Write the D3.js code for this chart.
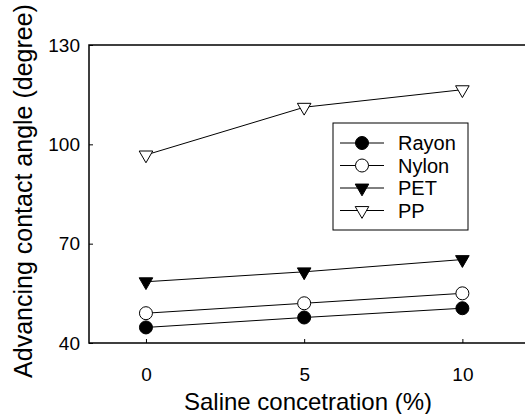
<!DOCTYPE html>
<html>
<head>
<meta charset="utf-8">
<script src="https://cdn.jsdelivr.net/npm/d3@7"></script>
<style>
  body { margin: 0; background: #fff; }
  svg { display: block; font-family: "Liberation Sans", Arial, sans-serif; }
</style>
</head>
<body>
<div id="plot"></div>
<script>
// data
const saline = [0, 5, 10];
const rayon = [44.7, 47.7, 50.5];
const nylon = [49, 52, 55];
const pet = [58.5, 61.5, 65.2];
const pp = [96.8, 111.2, 116.5];
const xTicks = [0, 5, 10];
const yTicks = [40, 70, 100, 130];

const series = [
  {name: "Rayon", values: rayon, shape: "circle", fill: "#000"},
  {name: "Nylon", values: nylon, shape: "circle", fill: "#fff"},
  {name: "PET", values: pet, shape: "tri", fill: "#000"},
  {name: "PP", values: pp, shape: "tri", fill: "#fff"}
];

const W = 525, H = 414;
const margin = {top: 45, right: -7, bottom: 71, left: 89};

const svg = d3.select("#plot").append("svg")
    .attr("width", W)
    .attr("height", H);

const x = d3.scaleLinear()
    .domain([-1.8, 12.2])
    .range([margin.left, W - margin.right]);

const y = d3.scaleLinear()
    .domain([40, 130])
    .range([H - margin.bottom, margin.top]);

// frame (left, top, bottom) - right side is cut off in the source
svg.append("path")
    .attr("d", `M${x.range()[1]},${y(130)}H${x(-1.8)}V${y(40)}H${x.range()[1]}`)
    .attr("fill", "none")
    .attr("stroke", "#000")
    .attr("stroke-width", 1.5);

// axes with inward ticks
const xAxis = svg.append("g")
    .attr("transform", `translate(0,${y(40)})`)
    .call(d3.axisBottom(x).tickValues(xTicks).tickSizeInner(-4).tickSizeOuter(0).tickPadding(25));
xAxis.select(".domain").remove();

const yAxis = svg.append("g")
    .attr("transform", `translate(${x(-1.8)},0)`)
    .call(d3.axisLeft(y).tickValues(yTicks).tickSizeInner(-4).tickSizeOuter(0).tickPadding(9));
yAxis.select(".domain").remove();

svg.selectAll(".tick text")
    .attr("font-size", 19)
    .attr("font-family", "Liberation Sans, Arial, sans-serif")
    .attr("fill", "#000");
svg.selectAll(".tick line").attr("stroke", "#000");

// axis titles
svg.append("text")
    .attr("x", 308)
    .attr("y", 410)
    .attr("text-anchor", "middle")
    .attr("font-size", 24)
    .text("Saline concetration (%)");

svg.append("text")
    .attr("transform", "translate(32,191) rotate(-90)")
    .attr("text-anchor", "middle")
    .attr("font-size", 25)
    .text("Advancing contact angle (degree)");

const line = d3.line()
    .x((d, i) => x(saline[i]))
    .y(d => y(d));

const tri = d3.symbol().type(d3.symbolTriangle).size(80);

function marker(g, s) {
  if (s.shape === "circle") {
    g.append("circle").attr("r", 6.5);
  } else {
    g.append("path").attr("d", tri()).attr("transform", "rotate(180)");
  }
  g.selectAll("circle,path")
    .attr("fill", s.fill)
    .attr("stroke", "#000")
    .attr("stroke-width", 1);
}

series.forEach(s => {
  svg.append("path")
      .datum(s.values)
      .attr("d", line)
      .attr("fill", "none")
      .attr("stroke", "#000")
      .attr("stroke-width", 1);
  s.values.forEach((v, i) => {
    const g = svg.append("g")
        .attr("transform", `translate(${x(saline[i])},${y(v)})`);
    marker(g, s);
  });
});

// legend
const legend = svg.append("g").attr("transform", "translate(333,123)");
legend.append("rect")
    .attr("width", 135)
    .attr("height", 107)
    .attr("fill", "#fff")
    .attr("stroke", "#000")
    .attr("stroke-width", 1);

series.forEach((s, i) => {
  const ly = 20 + i * 22.5;
  legend.append("line")
      .attr("x1", 7).attr("x2", 51)
      .attr("y1", ly).attr("y2", ly)
      .attr("stroke", "#000");
  const g = legend.append("g").attr("transform", `translate(29,${ly})`);
  marker(g, s);
  legend.append("text")
      .attr("x", 65)
      .attr("y", ly + 7)
      .attr("font-size", 20)
      .text(s.name);
});
</script>
</body>
</html>
